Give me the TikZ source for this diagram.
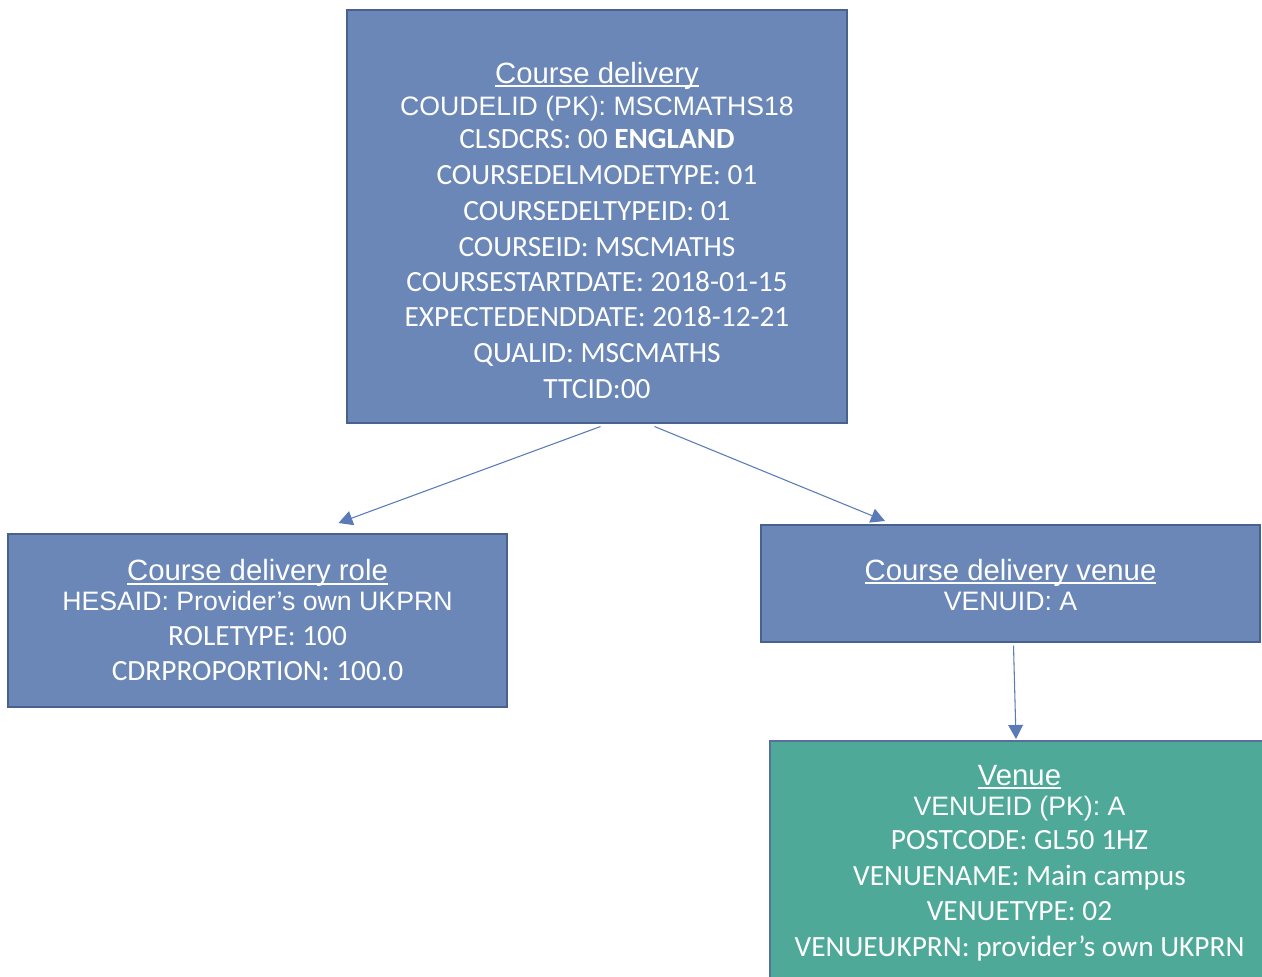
\documentclass[tikz,border=0pt]{standalone}
\usepackage{fontspec}
\setmainfont{Carlito}
\newfontfamily\arialf{Liberation Sans}
\usetikzlibrary{arrows.meta}
\definecolor{boxblue}{RGB}{106,135,184}
\definecolor{boxedge}{RGB}{72,97,141}
\definecolor{venuefill}{RGB}{78,169,153}
\definecolor{venueedge}{RGB}{88,110,158}
\definecolor{arrowc}{RGB}{91,123,184}
\newcommand\myul[1]{\sbox0{#1}\rlap{\rule[-3pt]{\wd0}{1.4pt}}\usebox0}
\tikzset{
  box/.style={draw=boxedge, line width=1.5pt, fill=boxblue, inner sep=0pt},
  txt/.style={anchor=base, text=white, inner sep=0pt, font=\fontsize{22}{26}\selectfont},
  ttl/.style={txt, font=\arialf\fontsize{22}{26}\selectfont},
  atxt/.style={txt, font=\arialf\fontsize{20}{24}\selectfont},
  arr/.style={draw=arrowc, line width=0.8pt, -{Triangle[length=10.5pt,width=11pt]}}
}
\begin{document}
\begin{tikzpicture}[x=0.75pt,y=-0.75pt]
\useasboundingbox (0,0) rectangle (1262,976);
\clip (0,0) rectangle (1262,976);
\fill[white] (0,0) rectangle (1262,976);

% boxes
\node[box, minimum width=375pt, minimum height=309.75pt] (cd) at (597,216.5) {};
\node[box, minimum width=374.25pt, minimum height=129.4pt] (cdr) at (257.5,620.25) {};
\node[box, minimum width=374.25pt, minimum height=87.4pt] (cdv) at (1010.5,583.25) {};
\node[box, draw=venueedge, fill=venuefill, minimum width=374.25pt, minimum height=186.75pt] (ven) at (1019.5,865.5) {};

% Course delivery
\node[ttl] (cd1) at (597,83.2) {\myul{Course delivery}};
\node[atxt] (cd2) at (597,115) {COUDELID (PK): MSCMATHS18};
\node[txt] (cd3) at (597,148.3) {CLSDCRS: 00 \textbf{ENGLAND}};
\node[txt] (cd4) at (597,184) {COURSEDELMODETYPE: 01};
\node[txt] (cd5) at (597,220) {COURSEDELTYPEID: 01};
\node[txt] (cd6) at (597,256) {COURSEID: MSCMATHS};
\node[txt] (cd7) at (597,291.7) {COURSESTARTDATE: 2018-01-15};
\node[txt] (cd8) at (597,326.7) {EXPECTEDENDDATE: 2018-12-21};
\node[txt] (cd9) at (597,362) {QUALID: MSCMATHS};
\node[txt] (cd10) at (597,398) {TTCID:00};

% Course delivery role
\node[ttl] (cdr1) at (257.5,580.5) {\myul{Course delivery role}};
\node[atxt] (cdr2) at (257.5,610.7) {HESAID: Provider’s own UKPRN};
\node[txt] (cdr3) at (257.5,645.3) {ROLETYPE: 100};
\node[txt] (cdr4) at (257.5,680.7) {CDRPROPORTION: 100.0};

% Course delivery venue
\node[ttl] (cdv1) at (1010.5,580) {\myul{Course delivery venue}};
\node[atxt] (cdv2) at (1010.5,610) {VENUID: A};

% Venue
\node[ttl] (ven1) at (1019.5,785) {\myul{Venue}};
\node[atxt] (ven2) at (1019.5,815.5) {VENUEID (PK): A};
\node[txt] (ven3) at (1019.5,849) {POSTCODE: GL50 1HZ};
\node[txt] (ven4) at (1019.5,885) {VENUENAME: Main campus};
\node[txt] (ven5) at (1019.5,920.7) {VENUETYPE: 02};
\node[txt] (ven6) at (1019.5,956.7) {VENUEUKPRN: provider’s own UKPRN};

% connectors
\draw[arr] ([shift={(3.5,2.5)}]cd.south) -- ([shift={(81,-10)}]cdr.north);
\draw[arr] ([shift={(57.5,2.5)}]cd.south) -- ([shift={(-125.5,-3)}]cdv.north);
\draw[arr] ([shift={(3,3)}]cdv.south) -- ([shift={(-3.5,-1)}]ven.north);
\end{tikzpicture}
\end{document}
